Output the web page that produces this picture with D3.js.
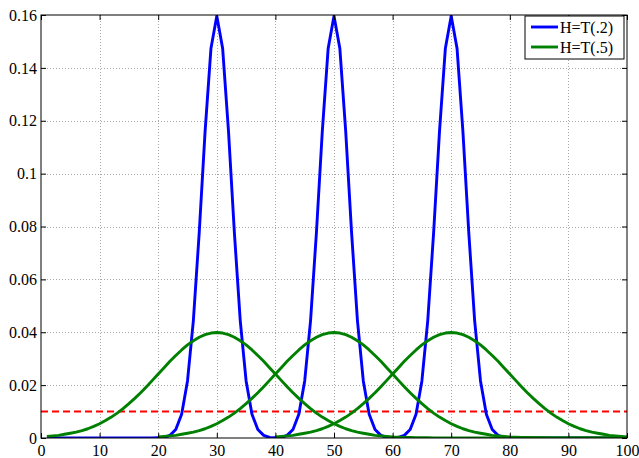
<!DOCTYPE html>
<html>
<head>
<meta charset="utf-8">
<script src="https://cdn.jsdelivr.net/npm/d3@7"></script>
<style>
  body { margin: 0; background: #fff; }
  svg text { font-family: 'Liberation Serif', 'Times New Roman', serif !important; font-size: 16px; fill: #000; }
</style>
</head>
<body>
<div id="chart"></div>
<script>

const xTicks = [0, 10, 20, 30, 40, 50, 60, 70, 80, 90, 100];
const yTicks = [0, 0.02, 0.04, 0.06, 0.08, 0.1, 0.12, 0.14, 0.16];
const yTickLabels = ["0", "0.02", "0.04", "0.06", "0.08", "0.1", "0.12", "0.14", "0.16"];
const legendLabels = ["H=T(.2)", "H=T(.5)"];
const threshold = 0.01;

// H=T(.2), x = 1..100
const blueX = d3.range(1, 101);
const blueY = [
  0, 0, 0, 0, 0, 0, 0, 0, 0, 0,
  0, 0, 0, 0, 0, 0, 0, 0, 0, .0001,
  .0002, .0010, .0032, .0090, .0216, .0444, .0777, .1159, .1473, .1596,
  .1473, .1159, .0777, .0444, .0216, .0090, .0032, .0010, .0002, .0001,
  .0002, .0010, .0032, .0090, .0216, .0444, .0777, .1159, .1473, .1596,
  .1473, .1159, .0777, .0444, .0216, .0090, .0032, .0010, .0002, .0001,
  .0002, .0010, .0032, .0090, .0216, .0444, .0777, .1159, .1473, .1596,
  .1473, .1159, .0777, .0444, .0216, .0090, .0032, .0010, .0002, .0001,
  0, 0, 0, 0, 0, 0, 0, 0, 0, 0,
  0, 0, 0, 0, 0, 0, 0, 0, 0, 0
];

// H=T(.5), three rows
const green30X = d3.range(1, 101);
const green30Y = [
  .0006, .0008, .0010, .0014, .0018, .0022, .0028, .0035, .0044, .0054,
  .0066, .0079, .0094, .0111, .0130, .0150, .0171, .0194, .0218, .0242,
  .0266, .0290, .0312, .0333, .0352, .0368, .0381, .0391, .0397, .0399,
  .0397, .0391, .0381, .0368, .0352, .0333, .0312, .0290, .0266, .0242,
  .0218, .0194, .0171, .0150, .0130, .0111, .0094, .0079, .0066, .0054,
  .0044, .0035, .0028, .0022, .0018, .0014, .0010, .0008, .0006, .0004,
  .0003, .0002, .0002, .0001, .0001, .0001, 0, 0, 0, 0,
  0, 0, 0, 0, 0, 0, 0, 0, 0, 0,
  0, 0, 0, 0, 0, 0, 0, 0, 0, 0,
  0, 0, 0, 0, 0, 0, 0, 0, 0, 0
];

const green50X = d3.range(20, 101);
const green50Y = [
  .0004, .0006, .0008, .0010, .0014, .0018, .0022, .0028, .0035, .0044,
  .0054, .0066, .0079, .0094, .0111, .0130, .0150, .0171, .0194, .0218,
  .0242, .0266, .0290, .0312, .0333, .0352, .0368, .0381, .0391, .0397,
  .0399,
  .0397, .0391, .0381, .0368, .0352, .0333, .0312, .0290, .0266, .0242,
  .0218, .0194, .0171, .0150, .0130, .0111, .0094, .0079, .0066, .0054,
  .0044, .0035, .0028, .0022, .0018, .0014, .0010, .0008, .0006, .0004,
  .0003, .0002, .0002, .0001, .0001, .0001, 0, 0, 0, 0,
  0, 0, 0, 0, 0, 0, 0, 0, 0, 0
];

const green70X = d3.range(40, 101);
const green70Y = [
  .0004, .0006, .0008, .0010, .0014, .0018, .0022, .0028, .0035, .0044,
  .0054, .0066, .0079, .0094, .0111, .0130, .0150, .0171, .0194, .0218,
  .0242, .0266, .0290, .0312, .0333, .0352, .0368, .0381, .0391, .0397,
  .0399,
  .0397, .0391, .0381, .0368, .0352, .0333, .0312, .0290, .0266, .0242,
  .0218, .0194, .0171, .0150, .0130, .0111, .0094, .0079, .0066, .0054,
  .0044, .0035, .0028, .0022, .0018, .0014, .0010, .0008, .0006, .0004
];

// layout
const width = 639;
const height = 458;
const margin = { top: 15, right: 12, bottom: 20, left: 41 };
const serif = "'Liberation Serif', 'Times New Roman', serif";

const svg = d3.select('#chart')
  .append('svg')
  .attr('width', width)
  .attr('height', height);

const x = d3.scaleLinear()
  .domain([0, 100])
  .range([margin.left, width - margin.right]);

const y = d3.scaleLinear()
  .domain([0, 0.16])
  .range([height - margin.bottom, margin.top]);

svg.append('clipPath')
  .attr('id', 'plot-clip')
  .append('rect')
  .attr('x', x(0))
  .attr('y', y(0.16))
  .attr('width', x(100) - x(0))
  .attr('height', y(0) - y(0.16));

// dotted grid
const grid = svg.append('g')
  .attr('stroke', '#a8a8a8')
  .attr('stroke-width', 1)
  .attr('stroke-dasharray', '1,2');

grid.selectAll('.gx')
  .data(xTicks.slice(1, -1))
  .join('line')
  .attr('x1', d => Math.round(x(d)) + 0.5)
  .attr('x2', d => Math.round(x(d)) + 0.5)
  .attr('y1', y(0.16))
  .attr('y2', y(0));

grid.selectAll('.gy')
  .data(yTicks.slice(1, -1))
  .join('line')
  .attr('y1', d => Math.round(y(d)) + 0.5)
  .attr('y2', d => Math.round(y(d)) + 0.5)
  .attr('x1', x(0))
  .attr('x2', x(100));

// red dashed threshold
svg.append('line')
  .attr('x1', x(0))
  .attr('x2', x(100))
  .attr('y1', y(threshold))
  .attr('y2', y(threshold))
  .attr('stroke', '#ff0000')
  .attr('stroke-width', 2)
  .attr('stroke-dasharray', '7,4');

const line = d3.line()
  .x(d => x(d[0]))
  .y(d => y(d[1]));

const series = [
  { xs: blueX, ys: blueY, color: '#0000ff' },
  { xs: green30X, ys: green30Y, color: '#008000' },
  { xs: green50X, ys: green50Y, color: '#008000' },
  { xs: green70X, ys: green70Y, color: '#008000' }
];

svg.append('g')
  .attr('clip-path', 'url(#plot-clip)')
  .selectAll('path')
  .data(series)
  .join('path')
  .attr('d', s => line(d3.zip(s.xs, s.ys)))
  .attr('fill', 'none')
  .attr('stroke', s => s.color)
  .attr('stroke-width', 2.9)
  .attr('stroke-linejoin', 'round');

// axes, MATLAB style: ticks pointing inwards on all four sides
function xAxis(g) {
  g.attr('transform', `translate(0, ${y(0)})`)
    .call(d3.axisBottom(x).tickValues(xTicks).tickSizeInner(-5).tickSizeOuter(0).tickPadding(7))
    .attr('font-family', serif)
    .attr('font-size', 16)
    .call(g => g.select('.domain').remove());
}

function yAxis(g) {
  g.attr('transform', `translate(${x(0)}, 0)`)
    .call(d3.axisLeft(y).tickValues(yTicks).tickFormat((d, i) => yTickLabels[i]).tickSizeInner(-5).tickSizeOuter(0).tickPadding(4))
    .attr('font-family', serif)
    .attr('font-size', 16)
    .call(g => g.select('.domain').remove());
}

function topAxis(g) {
  g.attr('transform', `translate(0, ${y(0.16)})`)
    .call(d3.axisTop(x).tickValues(xTicks).tickFormat('').tickSizeInner(-5).tickSizeOuter(0))
    .call(g => g.select('.domain').remove());
}

function rightAxis(g) {
  g.attr('transform', `translate(${x(100)}, 0)`)
    .call(d3.axisRight(y).tickValues(yTicks).tickFormat('').tickSizeInner(-5).tickSizeOuter(0))
    .call(g => g.select('.domain').remove());
}

svg.append('g').call(xAxis);
svg.append('g').call(yAxis);
svg.append('g').call(topAxis);
svg.append('g').call(rightAxis);

svg.append('rect')
  .attr('x', x(0))
  .attr('y', y(0.16))
  .attr('width', x(100) - x(0))
  .attr('height', y(0) - y(0.16))
  .attr('fill', 'none')
  .attr('stroke', '#000')
  .attr('stroke-width', 1);

// legend
const legend = svg.append('g')
  .attr('transform', `translate(${x(100) - 102}, ${y(0.16) + 1})`)
  .attr('font-family', serif)
  .attr('font-size', 16);

legend.append('rect')
  .attr('x', 0)
  .attr('y', 0)
  .attr('width', 99)
  .attr('height', 43)
  .attr('fill', '#fff')
  .attr('stroke', '#000')
  .attr('stroke-width', 1);

const legendItems = legend.selectAll('.item')
  .data(legendLabels)
  .join('g')
  .attr('transform', (d, i) => `translate(0, ${11 + i * 20})`);

legendItems.append('line')
  .attr('x1', 6)
  .attr('x2', 33)
  .attr('stroke', (d, i) => series[i].color)
  .attr('stroke-width', 2.9);

legendItems.append('text')
  .attr('x', 35)
  .attr('dy', '0.35em')
  .text(d => d);
</script>
</body>
</html>
